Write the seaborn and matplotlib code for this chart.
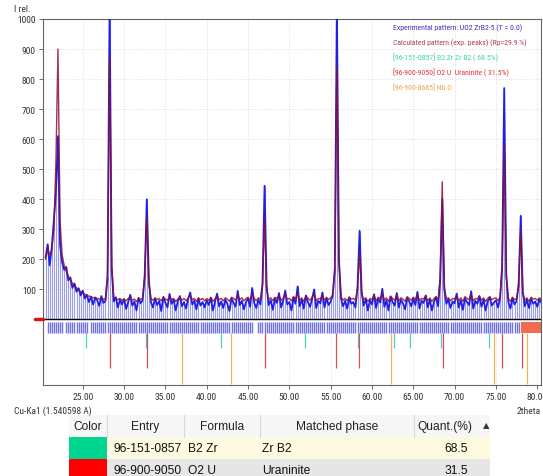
import numpy as np
import pandas as pd
import matplotlib
matplotlib.use("Agg")
import matplotlib.pyplot as plt
from matplotlib import font_manager
from matplotlib.patches import Rectangle
import seaborn as sns

# -------------------------
# DATA
# -------------------------
two_theta = np.round(np.arange(20.5, 80.51, 0.25), 2)

exp_counts = [
    205, 250, 180, 240, 330, 420, 610, 250, 190, 165, 175, 130, 140, 105, 120, 92, 104, 80,
    96, 70, 82, 58, 76, 50, 72, 64, 45, 78, 55, 62, 140, 1050, 170, 60, 74, 40, 66, 50,
    68, 35, 58, 82, 46, 60, 30, 72, 54, 64, 150, 400, 130, 58, 40, 70, 48, 62, 28, 75,
    56, 40, 85, 52, 66, 30, 60, 78, 44, 58, 36, 68, 90, 50, 62, 34, 70, 46, 58, 40,
    64, 48, 72, 30, 58, 86, 44, 60, 38, 66, 52, 28, 70, 56, 42, 95, 48, 62, 34, 58,
    70, 42, 105, 55, 38, 66, 50, 120, 445, 110, 48, 64, 32, 70, 55, 88, 40, 62, 96, 50,
    58, 30, 74, 52, 110, 44, 66, 36, 80, 58, 42, 68, 100, 38, 62, 54, 90, 40, 70, 48,
    60, 80, 170, 1050, 200, 70, 44, 62, 36, 74, 52, 58, 40, 110, 295, 90, 46, 68, 30, 64,
    50, 84, 38, 70, 56, 102, 42, 64, 30, 76, 58, 46, 88, 40, 66, 54, 34, 72, 60, 44,
    70, 48, 92, 36, 62, 55, 80, 40, 66, 30, 58, 74, 44, 130, 400, 100, 52, 68, 38, 60,
    54, 86, 40, 64, 32, 70, 58, 48, 94, 36, 62, 52, 78, 42, 66, 30, 60, 74, 46, 56,
    64, 40, 70, 180, 770, 150, 58, 36, 72, 50, 62, 120, 345, 90, 44, 66, 38, 70, 52, 60,
    42, 68, 55,
]

calc_counts = [
    200, 235, 215, 230, 300, 520, 900, 330, 215, 180, 160, 145, 132, 120, 112, 105, 98, 92,
    88, 84, 80, 78, 76, 72, 74, 70, 68, 72, 66, 70, 150, 870, 180, 72, 68, 66, 70, 64,
    68, 62, 70, 72, 64, 68, 60, 70, 66, 72, 140, 340, 120, 70, 64, 72, 66, 70, 62, 74,
    68, 64, 76, 66, 70, 60, 68, 74, 64, 70, 62, 72, 80, 66, 70, 60, 72, 66, 70, 62,
    70, 64, 74, 60, 68, 78, 66, 70, 62, 72, 68, 60, 74, 70, 64, 82, 66, 72, 62, 70,
    74, 64, 86, 70, 62, 72, 68, 110, 335, 100, 66, 72, 62, 74, 70, 80, 64, 70, 84, 68,
    70, 62, 76, 68, 88, 64, 72, 60, 78, 70, 64, 74, 86, 62, 70, 68, 80, 64, 74, 66,
    72, 82, 160, 840, 190, 76, 64, 70, 62, 74, 68, 70, 64, 100, 220, 84, 66, 72, 60, 70,
    66, 80, 62, 74, 70, 86, 64, 72, 60, 78, 70, 64, 82, 62, 72, 68, 60, 76, 70, 64,
    74, 66, 84, 62, 70, 68, 78, 62, 72, 60, 70, 76, 66, 140, 458, 110, 68, 72, 62, 70,
    68, 80, 62, 72, 60, 76, 70, 66, 84, 62, 70, 68, 78, 64, 72, 60, 70, 76, 66, 70,
    72, 62, 76, 170, 580, 140, 70, 60, 74, 66, 70, 110, 296, 88, 64, 72, 60, 74, 68, 70,
    64, 72, 68,
]

# phase stick positions (2theta)
zrb2_peaks = [25.35, 32.7, 41.75, 51.9, 58.3, 62.7, 64.6, 68.3, 74.1]
uo2_peaks = [28.28, 32.76, 47.0, 55.7, 58.4, 68.6, 75.7, 78.1]
nbo_peaks = [37.0, 42.95, 62.35, 74.75, 78.7]
band_gaps = [22.75, 25.75, 45.75, 46.0]

x_ticks = [25, 30, 35, 40, 45, 50, 55, 60, 65, 70, 75, 80]
y_ticks = [100, 200, 300, 400, 500, 600, 700, 800, 900, 1000]

legend_lines = [
    ("Experimental pattern: UO2 ZrB2-5 (T = 0.0)", "#3a32b8"),
    ("Calculated pattern (exp. peaks) (Rp=29.9 %)", "#b23a48"),
    ("[96-151-0857] B2 Zr Zr B2 ( 68.5%)", "#3fd6a6"),
    ("[96-900-9050] O2 U  Uraninite ( 31.5%)", "#e0343c"),
    ("[96-900-8685] Nb O", "#f0a24a"),
]

table_header = ["Color", "Entry", "Formula", "Matched phase", "Quant.(%)"]
table_entries = ["96-151-0857", "96-900-9050"]
table_formulas = ["B2 Zr", "O2 U"]
table_phases = ["Zr B2", "Uraninite"]
table_quant = [68.5, 31.5]
table_colors = ["#00d68f", "#ff0000"]

df = pd.DataFrame({"two_theta": two_theta, "exp": exp_counts, "calc": calc_counts})

# -------------------------
# STYLE
# -------------------------
sns.set_style("white")
plt.rcParams["font.family"] = ["Liberation Sans", "DejaVu Sans"]

# narrow face for the small labels, if one is installed
narrow_file = None
for f in sorted(font_manager.findSystemFonts()):
    name = f.split("/")[-1]
    if ("Narrow" in name or "Condensed" in name) and "Bold" not in name and "Italic" not in name \
            and "Oblique" not in name and "Light" not in name:
        narrow_file = f
        if "LiberationSansNarrow" in name:
            break
fp = font_manager.FontProperties(fname=narrow_file) if narrow_file else font_manager.FontProperties(family="Liberation Sans")

fig = plt.figure(figsize=(5.43, 4.77), dpi=100)
ax = fig.add_axes([0.0786, 0.1908, 0.9177, 0.7673])

# -------------------------
# PATTERN
# -------------------------
ax.vlines(df["two_theta"], 0, df["exp"], color="#7c7ce8", lw=0.8, alpha=0.75, zorder=1)
sns.lineplot(data=df, x="two_theta", y="exp", ax=ax, color="#1f1fe6", lw=1.3,
             estimator=None, sort=True, zorder=3)
sns.lineplot(data=df, x="two_theta", y="calc", ax=ax, color="#8e1030", lw=1.0,
             alpha=0.85, estimator=None, sort=True, zorder=4)

ax.axhline(0, color="black", lw=1.0, zorder=5)
ax.plot([-0.016, 0], [0, 0], color="#e01010", lw=2.5, transform=ax.get_yaxis_transform(),
        clip_on=False, zorder=6)

# calculated peak band + phase sticks
band_x = [t for t in two_theta if 20.75 <= t <= 77.75 and t not in band_gaps]
ax.vlines(band_x, -45, -10, color="#5a5ae0", lw=1.0, alpha=0.85, zorder=2)
ax.add_patch(Rectangle((78.0, -45), 2.45, 35, color="#f26b4f", lw=0, zorder=2))
ax.vlines(zrb2_peaks, -96, -45, color="#4cd1b8", lw=0.9, zorder=2)
ax.vlines(uo2_peaks, -163, -45, color="#d94a5a", lw=0.9, zorder=2)
ax.vlines(nbo_peaks, -216, -45, color="#f2b25a", lw=0.9, zorder=2)

# -------------------------
# AXES
# -------------------------
ax.set_xlim(20.15, 80.45)
ax.set_ylim(-218, 1000)
ax.set_xticks(x_ticks)
ax.set_xticklabels([f"{t:.2f}" for t in x_ticks])
ax.set_yticks(y_ticks)
ax.set_yticklabels([str(t) for t in y_ticks])
ax.tick_params(axis="both", length=3, width=0.6, color="#555555",
               labelcolor="#333333", pad=2)
ax.tick_params(axis="both", which="both", direction="out", bottom=True, left=True)
for lbl in ax.get_xticklabels() + ax.get_yticklabels():
    lbl.set_fontproperties(fp)
    lbl.set_fontsize(6.8)
ax.grid(True, color="#d8d8d8", lw=0.6, ls=":")
for s in ax.spines.values():
    s.set_color("#666666")
    s.set_linewidth(0.8)
ax.set_xlabel("")
ax.set_ylabel("")

small = dict(fontproperties=fp, color="#333333", va="center")
t1 = fig.text(14 / 543, 1 - 9 / 477, "I rel.", **small)
t2 = fig.text(14 / 543, 1 - 411 / 477, "Cu-Ka1 (1.540598 A)", **small)
t3 = fig.text(541 / 543, 1 - 411 / 477, "2theta", ha="right", **small)
for t in (t1, t2, t3):
    t.set_fontsize(6.8)

legend_texts = []
for i, (txt, col) in enumerate(legend_lines):
    t = fig.text(393 / 543, 1 - (28 + 14.8 * i) / 477, txt, fontproperties=fp, color=col, va="center")
    t.set_fontsize(6.5)
    legend_texts.append(t)

# -------------------------
# MATCHED PHASE TABLE
# -------------------------
tb = fig.add_axes([0, 0, 1, 1], zorder=-1)
tb.set_xlim(0, 543)
tb.set_ylim(477, 0)
tb.axis("off")

col_edges = [69, 107, 184, 260, 414, 490]
row_edges = [416, 438, 460, 482]

tb.add_patch(Rectangle((69, 416), 421, 22, color="#f6f6f6", lw=0))
tb.add_patch(Rectangle((107, 438), 383, 22, color="#fdfae0", lw=0))
tb.add_patch(Rectangle((107, 460), 383, 22, color="#e6e6e6", lw=0))
for i, c in enumerate(table_colors):
    tb.add_patch(Rectangle((69, row_edges[i + 1]), 38, 22, color=c, lw=0))
for xe in col_edges[1:-1]:
    tb.plot([xe, xe], [416, 438], color="#d6d6d6", lw=0.8)

table_texts = []
hdr_x = [88, 145, 222, 337, 445]
for x, h in zip(hdr_x, table_header):
    table_texts.append(tb.text(x, 427, h, ha="center", va="center", color="#222222"))
tb.text(486, 426, "\u25b2", fontsize=6, ha="center", va="center", color="#333333",
        family=["DejaVu Sans"])

for i in range(2):
    yc = (row_edges[i + 1] + row_edges[i + 2]) / 2
    table_texts.append(tb.text(113, yc, table_entries[i], ha="left", va="center", color="#111111"))
    table_texts.append(tb.text(188, yc, table_formulas[i], ha="left", va="center", color="#111111"))
    table_texts.append(tb.text(262, yc, table_phases[i], ha="left", va="center", color="#111111"))
    table_texts.append(tb.text(468, yc, f"{table_quant[i]:.1f}", ha="right", va="center", color="#111111"))

# size the texts to the widths seen in the reference
fig.canvas.draw()
r = fig.canvas.get_renderer()
w = legend_texts[1].get_window_extent(r).width
leg_fs = min(6.5, 6.5 * 134 / w)
for t in legend_texts:
    t.set_fontsize(leg_fs)
for t in table_texts:
    t.set_fontsize(10)
fig.canvas.draw()
w = table_texts[5].get_window_extent(r).width
tab_fs = min(10, 10 * 68 / w)
for t in table_texts:
    t.set_fontsize(tab_fs)

fig.savefig("out.png", dpi=100)
